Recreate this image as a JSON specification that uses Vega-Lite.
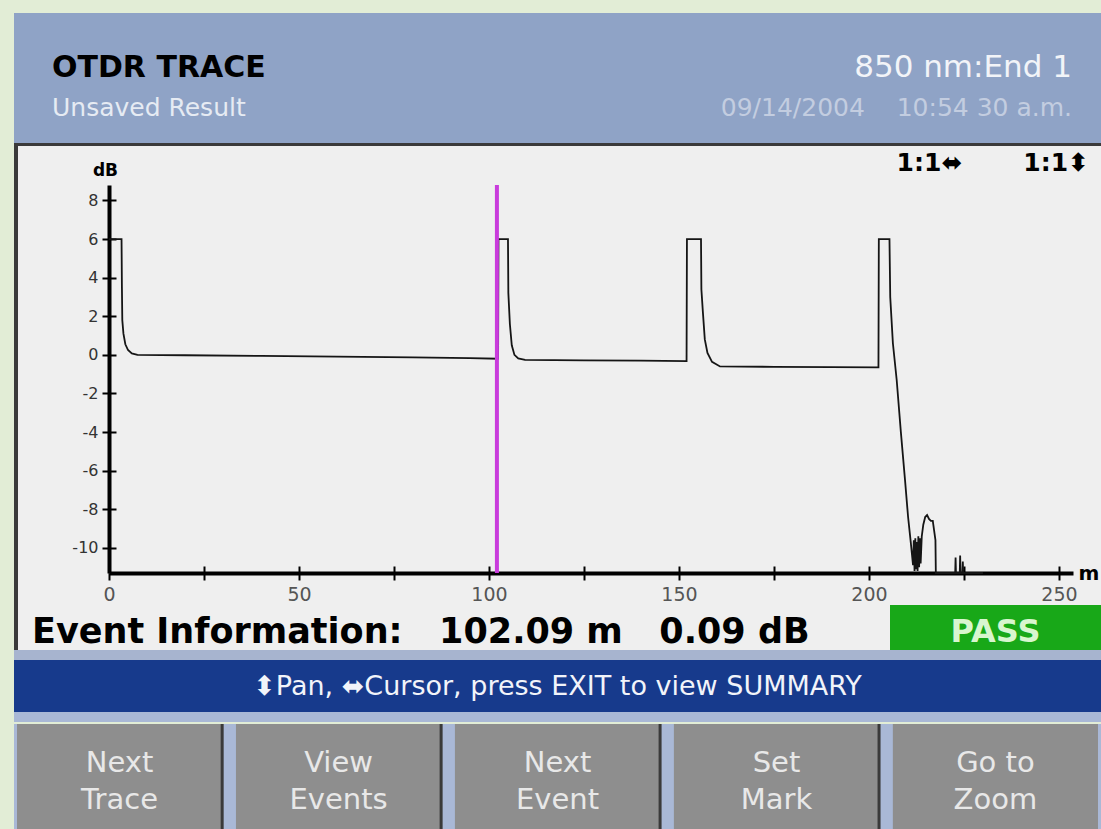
{
  "$schema": "https://vega.github.io/schema/vega-lite/v6.json",
  "background": "#e2edd6",
  "padding": {"left": 14, "top": 13, "right": 0, "bottom": 0},
  "spacing": 0,
  "config": {"view": {"stroke": null}, "concat": {"spacing": 0}, "axis": {"grid": false}, "font": "DejaVu Sans"},
  "vconcat": [
    {
      "width": 1087, "height": 130,
      "view": {"fill": "#8fa3c6"},
      "data": {"values": [
        {"side": "left", "row": "top", "text": "OTDR TRACE"},
        {"side": "left", "row": "bottom", "text": "Unsaved Result"},
        {"side": "right", "row": "top", "text": "850 nm:End 1"},
        {"side": "right", "row": "bottom", "text": "09/14/2004\u00a0\u00a0\u00a0\u00a010:54 30 a.m."}
      ]},
      "encoding": {
        "x": {"field": "side", "type": "nominal", "scale": {"type": "point", "domain": ["left", "right"], "range": [38, 1058], "padding": 0}, "axis": null},
        "y": {"field": "row", "type": "nominal", "scale": {"type": "point", "domain": ["top", "bottom"], "range": [64, 103], "padding": 0}, "axis": null},
        "text": {"field": "text"}
      },
      "layer": [
        {"transform": [{"filter": "datum.side === 'left' && datum.row === 'top'"}], "mark": {"type": "text", "align": "left", "baseline": "alphabetic", "fontSize": 30, "fontWeight": "bold", "color": "#000000"}},
        {"transform": [{"filter": "datum.side === 'left' && datum.row === 'bottom'"}], "mark": {"type": "text", "align": "left", "baseline": "alphabetic", "fontSize": 25, "color": "#e6ebf3"}},
        {"transform": [{"filter": "datum.side === 'right' && datum.row === 'top'"}], "mark": {"type": "text", "align": "right", "baseline": "alphabetic", "fontSize": 31, "color": "#f2f4f8"}},
        {"transform": [{"filter": "datum.side === 'right' && datum.row === 'bottom'"}], "mark": {"type": "text", "align": "right", "baseline": "alphabetic", "fontSize": 25, "color": "#c3cde0"}}
      ]
    },
    {
      "width": 1087, "height": 3,
      "view": {"fill": "#3a3a3a"},
      "data": {"values": []},
      "mark": {"type": "text", "text": ""}
    },
    {
      "spacing": 0,
      "hconcat": [
        {
          "width": 4, "height": 504,
          "view": {"fill": "#3a3a3a"},
          "data": {"values": []},
          "mark": {"type": "text", "text": ""}
        },
        {
          "spacing": 0,
          "vconcat": [
            {
              "width": 1083, "height": 459,
              "view": {"fill": "#efefef"},
              "title": {"text": "1:1\u2b0c\u00a0\u00a0\u00a0\u00a0\u00a0\u00a0\u00a01:1\u2b0d", "anchor": "end", "offset": -30, "dx": -12, "fontSize": 25, "fontWeight": "bold", "color": "#000000", "font": "DejaVu Sans"},
              "resolve": {"axis": {"x": "independent", "y": "independent"}},
              "layer": [
                {
                  "data": {"values": [
                    {"distance": 0, "dB": 6.0}, {"distance": 3.3, "dB": 6.0}, {"distance": 3.4, "dB": 3.5}, {"distance": 3.5, "dB": 1.8},
                    {"distance": 3.8, "dB": 1.1}, {"distance": 4.3, "dB": 0.55}, {"distance": 5.0, "dB": 0.25}, {"distance": 6.0, "dB": 0.08},
                    {"distance": 7.5, "dB": 0.0}, {"distance": 20, "dB": -0.02}, {"distance": 40, "dB": -0.05}, {"distance": 60, "dB": -0.09},
                    {"distance": 80, "dB": -0.13}, {"distance": 95, "dB": -0.17}, {"distance": 102.4, "dB": -0.2},
                    {"distance": 102.5, "dB": 6.0}, {"distance": 105.0, "dB": 6.0}, {"distance": 105.1, "dB": 3.2}, {"distance": 105.5, "dB": 1.6},
                    {"distance": 106.0, "dB": 0.5}, {"distance": 106.7, "dB": 0.0}, {"distance": 107.7, "dB": -0.18}, {"distance": 109.5, "dB": -0.26},
                    {"distance": 125, "dB": -0.28}, {"distance": 140, "dB": -0.3}, {"distance": 152.0, "dB": -0.32},
                    {"distance": 152.1, "dB": 6.0}, {"distance": 155.8, "dB": 6.0}, {"distance": 155.9, "dB": 3.4}, {"distance": 156.3, "dB": 2.2},
                    {"distance": 156.8, "dB": 0.8}, {"distance": 157.5, "dB": 0.1}, {"distance": 158.7, "dB": -0.36}, {"distance": 160.8, "dB": -0.6},
                    {"distance": 175, "dB": -0.62}, {"distance": 190, "dB": -0.64}, {"distance": 202.5, "dB": -0.65},
                    {"distance": 202.6, "dB": 6.0}, {"distance": 205.4, "dB": 6.0}, {"distance": 205.6, "dB": 3.0}, {"distance": 206.3, "dB": 0.6},
                    {"distance": 207.3, "dB": -1.3}, {"distance": 208.4, "dB": -4.0}, {"distance": 209.5, "dB": -6.5}, {"distance": 210.3, "dB": -8.4},
                    {"distance": 211.0, "dB": -9.7}, {"distance": 211.6, "dB": -10.9},
                    {"distance": 211.8, "dB": -9.6}, {"distance": 212.0, "dB": -11.2}, {"distance": 212.2, "dB": -9.5}, {"distance": 212.4, "dB": -11.1},
                    {"distance": 212.6, "dB": -9.7}, {"distance": 212.8, "dB": -11.2}, {"distance": 213.0, "dB": -9.4}, {"distance": 213.2, "dB": -11.0},
                    {"distance": 213.4, "dB": -9.5}, {"distance": 213.6, "dB": -10.8}, {"distance": 213.9, "dB": -9.4},
                    {"distance": 214.3, "dB": -8.8}, {"distance": 214.8, "dB": -8.4}, {"distance": 215.3, "dB": -8.3}, {"distance": 215.8, "dB": -8.5},
                    {"distance": 216.3, "dB": -8.6}, {"distance": 216.8, "dB": -8.6}, {"distance": 217.5, "dB": -9.6}, {"distance": 217.6, "dB": -11.3},
                    {"distance": 222.7, "dB": -11.3}, {"distance": 222.8, "dB": -10.5}, {"distance": 222.9, "dB": -11.3},
                    {"distance": 223.9, "dB": -11.3}, {"distance": 224.0, "dB": -10.4}, {"distance": 224.1, "dB": -11.3},
                    {"distance": 224.6, "dB": -11.3}, {"distance": 224.7, "dB": -10.7}, {"distance": 224.8, "dB": -11.3}, {"distance": 230, "dB": -11.3}
                  ]},
                  "mark": {"type": "line", "color": "#151515", "strokeWidth": 1.8},
                  "encoding": {
                    "x": {"field": "distance", "type": "quantitative",
                      "scale": {"domain": [0, 253.7], "range": [91, 1055], "nice": false, "zero": false},
                      "axis": {"title": "m", "orient": "bottom", "offset": -32, "values": [0, 25, 50, 75, 100, 125, 150, 175, 200, 225, 250],
                        "labelExpr": "datum.value % 50 === 0 ? datum.label : ''",
                        "domainColor": "#000000", "domainWidth": 4, "tickColor": "#000000", "tickWidth": 2, "tickSize": 7,
                        "labelFont": "DejaVu Sans", "labelFontSize": 19, "labelColor": "#555555", "labelPadding": 5,
                        "labelFlush": false, "labelOverlap": false,
                        "titleX": 1060, "titleY": 0, "titleAlign": "left", "titleBaseline": "middle",
                        "titleFontSize": 20, "titleFontWeight": "bold", "titleColor": "#000000", "titleFont": "DejaVu Sans"}},
                    "y": {"field": "dB", "type": "quantitative",
                      "scale": {"domain": [-11.3, 8.8], "range": [427, 39], "nice": false, "zero": false},
                      "axis": {"title": "dB", "orient": "left", "offset": -91, "values": [-10, -8, -6, -4, -2, 0, 2, 4, 6, 8],
                        "labelExpr": "(datum.value < 0 ? '-' : '') + abs(datum.value)",
                        "domainColor": "#000000", "domainWidth": 4, "tickColor": "#000000", "tickWidth": 2, "tickSize": 7,
                        "labelFont": "DejaVu Sans", "labelFontSize": 16, "labelColor": "#333333", "labelPadding": 4,
                        "labelFlush": false, "labelOverlap": false,
                        "titleAngle": 0, "titleX": -4, "titleY": 24, "titleAlign": "center", "titleBaseline": "middle",
                        "titleFontSize": 17, "titleFontWeight": "bold", "titleColor": "#000000", "titleFont": "DejaVu Sans"}}
                  }
                },
                {
                  "data": {"values": [{"distance": 102.09}]},
                  "mark": {"type": "rule", "color": "#c93cdc", "strokeWidth": 4},
                  "encoding": {
                    "x": {"field": "distance", "type": "quantitative",
                      "axis": {"orient": "bottom", "offset": -39, "labels": false, "domain": false, "title": null,
                        "values": [0, 25, 50, 75, 100, 125, 150, 175, 200, 225, 250],
                        "tickColor": "#000000", "tickWidth": 2, "tickSize": 7}},
                    "y": {"datum": 8.8, "type": "quantitative",
                      "axis": {"orient": "left", "offset": -98, "labels": false, "domain": false, "title": null,
                        "values": [-10, -8, -6, -4, -2, 0, 2, 4, 6, 8],
                        "tickColor": "#000000", "tickWidth": 2, "tickSize": 7}},
                    "y2": {"datum": -11.3}
                  }
                }
              ]
            },
            {
              "spacing": 0,
              "hconcat": [
                {
                  "width": 872, "height": 45,
                  "view": {"fill": "#efefef"},
                  "data": {"values": [{"side": "left", "line": "Event Information:\u00a0\u00a0\u00a0102.09 m\u00a0\u00a0\u00a00.09 dB"}]},
                  "mark": {"type": "text", "align": "left", "baseline": "alphabetic", "dy": 15.5, "fontSize": 35, "fontWeight": "bold", "color": "#000000"},
                  "encoding": {
                    "x": {"field": "side", "type": "nominal", "scale": {"type": "point", "domain": ["left", "right"], "range": [14, 858], "padding": 0}, "axis": null},
                    "text": {"field": "line"}
                  }
                },
                {
                  "width": 211, "height": 45,
                  "view": {"fill": "#18a818"},
                  "data": {"values": [{"status": "PASS"}]},
                  "mark": {"type": "text", "baseline": "alphabetic", "dy": 14.5, "fontSize": 32, "fontWeight": "bold", "color": "#d8f6cf"},
                  "encoding": {"text": {"field": "status"}}
                }
              ]
            }
          ]
        }
      ]
    },
    {
      "width": 1087, "height": 10,
      "view": {"fill": "#a7b4cf"},
      "data": {"values": []},
      "mark": {"type": "text", "text": ""}
    },
    {
      "width": 1087, "height": 52,
      "view": {"fill": "#173a8c"},
      "data": {"values": [{"hint": "\u2b0dPan, \u2b0cCursor, press EXIT to view SUMMARY"}]},
      "mark": {"type": "text", "fontSize": 27, "color": "#f2f4fa", "baseline": "middle", "dy": 1},
      "encoding": {"text": {"field": "hint"}}
    },
    {
      "width": 1087, "height": 10,
      "view": {"fill": "#a9b8d6"},
      "data": {"values": []},
      "mark": {"type": "text", "text": ""}
    },
    {
      "width": 1087, "height": 107,
      "view": {"fill": "#a9b8d6"},
      "data": {"values": [
        {"button": "Next Trace", "label": "Next\nTrace"},
        {"button": "View Events", "label": "View\nEvents"},
        {"button": "Next Event", "label": "Next\nEvent"},
        {"button": "Set Mark", "label": "Set\nMark"},
        {"button": "Go to Zoom", "label": "Go to\nZoom"}
      ]},
      "encoding": {
        "x": {"field": "button", "type": "nominal", "sort": null, "scale": {"type": "band", "paddingInner": 0.063, "paddingOuter": 0.0137}, "axis": null}
      },
      "layer": [
        {"mark": {"type": "bar", "color": "#8e8e8e"}},
        {"transform": [{"filter": "datum.button !== 'Go to Zoom'"}],
         "mark": {"type": "rule", "color": "#3a3a3a", "strokeWidth": 3},
         "encoding": {"x": {"field": "button", "type": "nominal", "sort": null, "bandPosition": 1}}},
        {"mark": {"type": "text", "fontSize": 29, "color": "#e8e8e8", "lineBreak": "\n", "lineHeight": 37, "baseline": "middle", "dy": -14.5},
         "encoding": {"text": {"field": "label"}}}
      ]
    }
  ]
}
